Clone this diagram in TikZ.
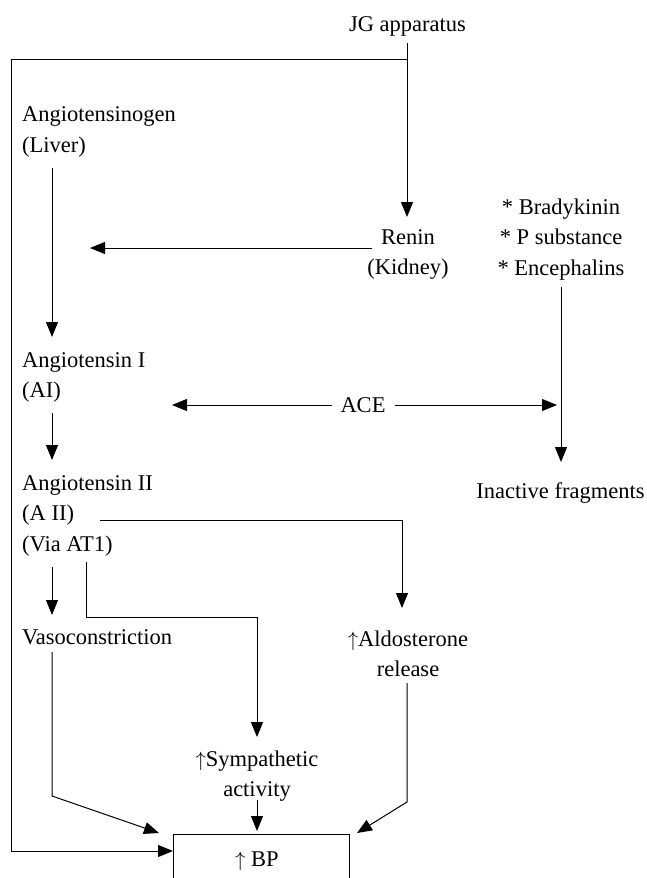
\documentclass[tikz,border=0pt]{standalone}
\usepackage{fontspec}
\setmainfont{Liberation Serif}
\usetikzlibrary{arrows.meta}
\begin{document}
\begin{tikzpicture}[x=1pt,y=-1pt,
  txt/.style={inner sep=0pt, font=\fontsize{22.5}{30.5}\selectfont},
  ln/.style={line width=1pt},
  arr/.style={ln, -{Triangle[length=15pt,width=12pt]}},
  boxed/.style={draw, line width=1pt, minimum width=176pt, minimum height=55pt, inner sep=0pt, font=\fontsize{22.5}{30.5}\selectfont}]
\clip (0,0) rectangle (647,878);
\fill[white] (0,0) rectangle (647,878);

% nodes
\node[txt] (jg) at (407.5,26.5) {JG apparatus};
\node[txt, align=left, anchor=west] (ag) at (22,132) {Angiotensinogen\\(Liver)};
\node[txt, align=center] (renin) at (408,254.5) {Renin\\(Kidney)};
\node[txt, align=center] (brady) at (561,239.5) {* Bradykinin\\* P substance\\* Encephalins};
\node[txt, align=left, anchor=west] (a1) at (22,377.5) {Angiotensin I\\(AI)};
\node[txt] (ace) at (363,405) {ACE};
\node[txt] (inact) at (560.5,493.5) {Inactive fragments};
\node[txt, align=left, anchor=west] (a2) at (22,515.5) {Angiotensin II\\(A II)\\(Via AT1)};
\node[txt, anchor=west] (vaso) at (22,637.5) {Vasoconstriction};
\node[txt, align=center] (aldo) at (408,654) {$\uparrow$Aldosterone\\release};
\node[txt, align=center] (symp) at (257,776) {$\uparrow$Sympathetic\\activity};
\node[boxed] (bp) at (261,861.5) {$\uparrow$ BP\hspace*{8pt}};

% coordinates
\coordinate (jgO) at (407,43);
\coordinate (split) at (407,59);
\coordinate (rnI) at (407,217);
\coordinate (fbA) at (11,59);
\coordinate (fbB) at (11,851);
\coordinate (bpL) at (173,851);
\coordinate (rnO) at (372,248);
\coordinate (agI) at (90,248);
\coordinate (agO) at (52,168);
\coordinate (a1I) at (52,337);
\coordinate (a1O) at (52,413);
\coordinate (a2I) at (52,460);
\coordinate (aceL) at (332,405);
\coordinate (a1R) at (172,405);
\coordinate (aceR) at (395,405);
\coordinate (brR) at (557,405);
\coordinate (brO) at (561,287);
\coordinate (inI) at (561,462);
\coordinate (a2O) at (100,520);
\coordinate (aldC) at (402,520);
\coordinate (aldI) at (402,608);
\coordinate (viaO) at (52,567);
\coordinate (vaI) at (52,615);
\coordinate (viaO2) at (86,562);
\coordinate (viaC) at (86,617);
\coordinate (syC) at (257,617);
\coordinate (syI) at (257,737);
\coordinate (vaO) at (52,652);
\coordinate (vaC) at (52,796);
\coordinate (bpVa) at (159,833);
\coordinate (syO) at (257,800);
\coordinate (bpSy) at (257,831);
\coordinate (alO) at (407,683);
\coordinate (alC) at (407,802);
\coordinate (bpAl) at (357,833);

% connectors
\draw[arr] (jgO) -- (rnI);
\draw[arr] (split) -- (fbA) -- (fbB) -- (bpL);
\draw[arr] (rnO) -- (agI);
\draw[arr] (agO) -- (a1I);
\draw[arr] (a1O) -- (a2I);
\draw[arr] (aceL) -- (a1R);
\draw[arr] (aceR) -- (brR);
\draw[arr] (brO) -- (inI);
\draw[arr] (a2O) -- (aldC) -- (aldI);
\draw[arr] (viaO) -- (vaI);
\draw[arr] (viaO2) -- (viaC) -- (syC) -- (syI);
\draw[arr] (vaO) -- (vaC) -- (bpVa);
\draw[arr] (syO) -- (bpSy);
\draw[arr] (alO) -- (alC) -- (bpAl);
\end{tikzpicture}
\end{document}
